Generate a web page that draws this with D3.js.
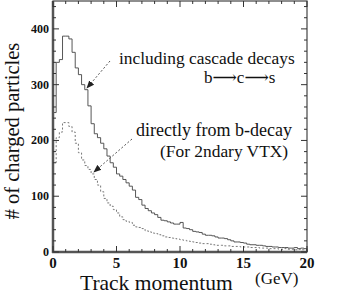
<!doctype html>
<html lang="en">
<head>
<meta charset="utf-8">
<title>Track momentum</title>
<script src="https://d3js.org/d3.v7.min.js"></script>
<style>
body { margin: 0; background: #fff; }
svg { display: block; }
text { fill: #111; }
.tick-label { font-weight: bold; }
</style>
</head>
<body>
<svg id="chart" width="349" height="295" font-family="Liberation Serif, DejaVu Serif, Times New Roman, serif"></svg>
<script>
// histogram bins, 0.25 GeV wide, from 0 to 20 GeV
const binWidth = 0.25;
const cascade = [250, 340, 345, 387, 387, 382, 358, 330, 318, 300,
  291, 262, 230, 212, 205, 195, 185, 172, 160, 152,
  140, 136, 130, 124, 118, 111, 98, 94, 84, 78,
  74, 70, 67, 62, 57, 56, 54, 52, 50, 50,
  53, 43, 42, 40, 37, 36, 35, 32, 30, 30,
  29, 27, 25, 25, 24, 22, 20, 18, 18, 17,
  16, 14, 13, 13, 12, 12, 11, 10, 10, 9,
  9, 8, 8, 8, 7, 7, 8, 6, 7, 6];
const direct = [160, 205, 215, 232, 232, 225, 215, 195, 178, 165,
  155, 148, 140, 130, 120, 108, 96, 88, 82, 76,
  70, 63, 58, 55, 53, 48, 45, 44, 42, 38,
  36, 34, 33, 31, 29, 27, 26, 25, 24, 23,
  22, 21, 20, 19, 18, 17, 16, 15, 15, 14,
  13, 12, 12, 12, 11, 11, 10, 10, 10, 9,
  9, 9, 8, 8, 8, 7, 7, 7, 6, 6,
  6, 5, 5, 6, 5, 5, 4, 5, 4, 4];
const xTicks = [0, 5, 10, 15, 20];
const yTicks = [0, 100, 200, 300, 400];

const svg = d3.select('#chart');

const x = d3.scaleLinear().domain([0, 20]).range([53, 307]);
const y = d3.scaleLinear().domain([0, 450]).range([252, 1]);

// step path for a histogram
function histPath(vals) {
  const pts = [[0, 0]];
  vals.forEach((v, i) => {
    pts.push([i * binWidth, v]);
    pts.push([(i + 1) * binWidth, v]);
  });
  pts.push([vals.length * binWidth, 0]);
  return d3.line().x(d => x(d[0])).y(d => y(d[1]))(pts);
}

svg.append('path')
  .attr('d', histPath(direct))
  .attr('fill', 'none')
  .attr('stroke', '#777')
  .attr('stroke-width', 1)
  .attr('stroke-dasharray', '2 2');

svg.append('path')
  .attr('d', histPath(cascade))
  .attr('fill', 'none')
  .attr('stroke', '#444')
  .attr('stroke-width', 0.9);

// frame with inward ticks on all sides
const frame = svg.append('g');
frame.append('rect')
  .attr('x', x(0)).attr('y', y(450))
  .attr('width', x(20) - x(0)).attr('height', y(0) - y(450))
  .attr('fill', 'none').attr('stroke', '#444').attr('stroke-width', 1.2);
frame.append('line')
  .attr('x1', x(0)).attr('x2', x(0)).attr('y1', y(450)).attr('y2', y(0) + 1)
  .attr('stroke', '#555').attr('stroke-width', 2.5);
frame.append('line')
  .attr('x1', x(0) - 1).attr('x2', x(20)).attr('y1', y(0)).attr('y2', y(0))
  .attr('stroke', '#555').attr('stroke-width', 2.5);

const xMinor = d3.range(0, 21, 1);
const yMinor = d3.range(0, 451, 20);

frame.selectAll('.xt').data(xMinor).join('g').each(function (d) {
  const len = d % 5 === 0 ? 6 : 3;
  d3.select(this).append('line')
    .attr('x1', x(d)).attr('x2', x(d)).attr('y1', y(0)).attr('y2', y(0) - len)
    .attr('stroke', '#333');
  d3.select(this).append('line')
    .attr('x1', x(d)).attr('x2', x(d)).attr('y1', y(450)).attr('y2', y(450) + len)
    .attr('stroke', '#333');
});
frame.selectAll('.yt').data(yMinor).join('g').each(function (d) {
  const len = d % 100 === 0 ? 6 : 3;
  d3.select(this).append('line')
    .attr('x1', x(0)).attr('x2', x(0) + len).attr('y1', y(d)).attr('y2', y(d))
    .attr('stroke', '#333');
  d3.select(this).append('line')
    .attr('x1', x(20)).attr('x2', x(20) - len).attr('y1', y(d)).attr('y2', y(d))
    .attr('stroke', '#333');
});

svg.selectAll('.xl').data(xTicks).join('text')
  .attr('class', 'tick-label')
  .attr('x', d => x(d))
  .attr('y', 267.5)
  .attr('text-anchor', 'middle')
  .attr('font-size', 15)
  .text(d => d);

svg.selectAll('.yl').data(yTicks).join('text')
  .attr('class', 'tick-label')
  .attr('x', 49)
  .attr('y', d => y(d) + 4)
  .attr('text-anchor', 'end')
  .attr('font-size', 12)
  .text(d => d);

// axis titles
svg.append('text')
  .attr('x', 80).attr('y', 290)
  .attr('font-size', 21.5)
  .text('Track momentum');
svg.append('text')
  .attr('x', 255).attr('y', 284)
  .attr('font-size', 17)
  .text('(GeV)');
svg.append('text')
  .attr('transform', 'translate(19,131) rotate(-90)')
  .attr('text-anchor', 'middle')
  .attr('font-size', 20.5)
  .text('# of charged particles');

// annotations
svg.append('text').attr('x', 119).attr('y', 64).attr('font-size', 17.4)
  .text('including cascade decays');
svg.append('text').attr('x', 204).attr('y', 83).attr('font-size', 17)
  .text('b\u27F6c\u27F6s');
svg.append('text').attr('x', 136).attr('y', 136).attr('font-size', 18)
  .text('directly from b-decay');
svg.append('text').attr('x', 160).attr('y', 157).attr('font-size', 17.4)
  .text('(For 2ndary VTX)');

// leader arrows
const defs = svg.append('defs');
defs.append('marker')
  .attr('id', 'head').attr('viewBox', '0 0 10 10')
  .attr('refX', 9).attr('refY', 5)
  .attr('markerWidth', 8).attr('markerHeight', 8)
  .attr('orient', 'auto')
  .append('path').attr('d', 'M0,1 L10,5 L0,9 Z').attr('fill', '#222');

const arrows = [
  { from: [110, 61], to: [87, 88] },
  { from: [132, 139], to: [94, 172] }
];
svg.selectAll('.arrow').data(arrows).join('line')
  .attr('x1', d => d.from[0]).attr('y1', d => d.from[1])
  .attr('x2', d => d.to[0]).attr('y2', d => d.to[1])
  .attr('stroke', '#555').attr('stroke-width', 1)
  .attr('stroke-dasharray', '2 2')
  .attr('marker-end', 'url(#head)');
</script>
</body>
</html>
